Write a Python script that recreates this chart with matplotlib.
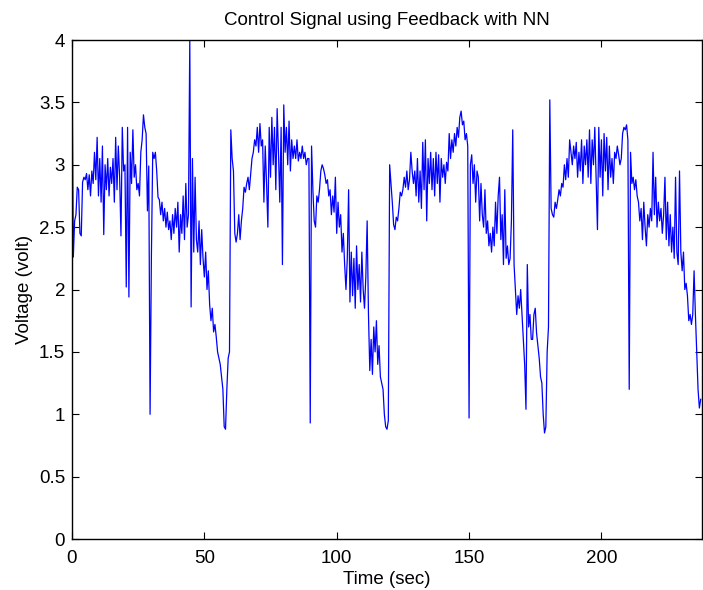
import numpy as np
import matplotlib
matplotlib.use("Agg")
import matplotlib.pyplot as plt

plt.rcParams['font.family'] = ['Liberation Sans', 'DejaVu Sans']

# sample spacing of the logged control signal (sec)
t_step = 0.5

# voltage, one 60 s cycle per list
volt_0_60 = [
    4.0, 2.26, 2.55, 2.6, 2.82, 2.8, 2.45, 2.43, 2.86, 2.9, 2.88, 2.93, 2.8, 2.92, 2.75, 2.95, 2.85, 3.1, 2.88, 3.22,
    2.75, 3.05, 2.7, 3.15, 2.44, 3.0, 2.8, 3.05, 2.75, 2.98, 2.85, 3.05, 2.7, 3.22, 2.8, 3.15, 2.9, 2.43, 3.3, 2.95,
    3.0, 2.02, 3.3, 1.94, 3.1, 2.85, 3.28, 2.9, 3.0, 2.8, 2.85, 2.75, 3.1, 3.2, 3.4, 3.3, 3.25, 2.63, 2.99, 1.0,
    2.27, 3.1, 3.05, 3.1, 2.95, 2.74, 2.72, 2.6, 2.7, 2.55, 2.65, 2.5, 2.62, 2.48, 2.55, 2.4, 2.6, 2.45, 2.65, 2.5,
    2.7, 2.3, 2.6, 2.45, 2.75, 2.4, 2.85, 2.5, 2.6, 4.0, 1.86, 3.05, 2.3, 2.9, 2.4, 2.3, 2.55, 2.2, 2.48, 2.25,
    2.1, 2.3, 2.0, 2.15, 1.88, 1.75, 1.85, 1.66, 1.72, 1.62, 1.5, 1.45, 1.4, 1.3, 1.2, 0.9, 0.88, 1.2, 1.45, 1.5,
]
volt_60_120 = [
    3.28, 3.05, 2.95, 2.45, 2.38, 2.45, 2.6, 2.4, 2.55, 2.65, 2.82, 2.78, 2.85, 2.9, 2.8, 2.93, 3.05, 3.1, 3.2, 3.15,
    3.3, 3.1, 3.33, 3.15, 3.2, 2.7, 3.15, 2.85, 2.5, 3.3, 2.9, 3.38, 3.0, 3.3, 2.8, 3.45, 3.1, 2.7, 3.3, 2.2,
    3.48, 3.1, 3.3, 3.0, 3.35, 2.95, 3.2, 3.05, 3.15, 3.05, 3.2, 3.03, 3.1, 3.05, 3.15, 3.05, 3.1, 3.0, 3.05, 3.05,
    0.93, 3.15, 2.8, 2.55, 2.5, 2.75, 2.7, 2.8, 2.95, 3.0, 2.97, 2.92, 2.85, 2.88, 2.75, 2.8, 2.6, 2.75, 2.62, 2.9,
    2.45, 2.7, 2.5, 2.6, 2.3, 2.45, 2.2, 2.0, 2.25, 2.8, 1.9, 2.3, 1.95, 2.25, 1.85, 2.35, 2.0, 2.2, 1.9, 2.3,
    2.0, 1.85, 2.1, 2.55, 1.8, 1.35, 1.6, 1.32, 1.7, 1.5, 1.75, 1.4, 1.55, 1.3, 1.25, 1.2, 1.0, 0.9, 0.88, 0.95,
]
volt_120_180 = [
    3.0, 2.85, 2.7, 2.52, 2.48, 2.58, 2.55, 2.65, 2.78, 2.75, 2.8, 2.9, 2.82, 2.95, 2.8, 2.88, 3.1, 2.95, 2.85, 2.95,
    2.75, 3.05, 2.7, 2.95, 2.65, 3.18, 2.8, 3.2, 2.55, 3.05, 2.85, 3.1, 2.8, 3.05, 2.75, 3.1, 2.85, 3.08, 2.7, 3.05,
    2.9, 3.0, 2.85, 3.02, 2.95, 3.25, 3.05, 3.2, 3.1, 3.25, 3.15, 3.3, 3.22, 3.38, 3.43, 3.32, 3.35, 3.2, 3.25, 3.15,
    0.97, 3.0, 3.08, 2.85, 3.0, 2.7, 2.95, 2.9, 2.55, 2.85, 2.6, 2.5, 2.8, 2.45, 2.55, 2.35, 2.45, 2.3, 2.5, 2.35,
    2.7, 2.45, 2.75, 2.9, 2.4, 2.6, 2.2, 2.8, 2.25, 2.35, 2.2, 2.25, 2.55, 3.28, 2.2, 2.0, 1.8, 1.95, 1.85, 2.0,
    1.8, 1.6, 1.4, 1.04, 2.2, 1.7, 1.8, 1.6, 1.6, 1.8, 1.85, 1.65, 1.55, 1.45, 1.3, 1.25, 1.0, 0.85, 0.9, 1.5,
]
volt_180_238 = [
    1.7, 3.52, 2.65, 2.6, 2.58, 2.7, 2.65, 2.72, 2.8, 2.75, 2.85, 2.82, 3.0, 2.88, 3.05, 2.9, 3.2, 3.1, 3.0, 3.15,
    3.05, 3.18, 2.9, 3.1, 2.95, 3.2, 2.85, 3.15, 3.0, 3.2, 2.9, 3.28, 2.85, 3.2, 3.0, 3.3, 2.9, 2.48, 3.3, 2.9,
    3.2, 2.75, 3.25, 2.95, 3.22, 2.8, 3.15, 2.9, 3.05, 2.85, 3.1, 3.05, 3.15, 3.08, 3.0, 3.05, 3.25, 3.3, 3.28, 3.32,
    3.2, 1.2, 3.1, 2.85, 2.9, 2.8, 2.88, 2.75, 2.7, 2.55, 2.65, 2.4, 2.7, 2.5, 2.35, 2.6, 2.5, 2.65, 2.55, 3.1,
    2.6, 2.9, 2.5, 2.7, 2.55, 2.65, 2.45, 2.6, 2.9, 2.4, 2.7, 2.35, 2.6, 2.3, 2.5, 2.25, 2.9, 2.3, 2.2, 2.95,
    2.3, 2.15, 2.3, 2.0, 2.05, 1.95, 1.75, 1.8, 1.72, 1.8, 2.15, 1.8, 1.5, 1.2, 1.05, 1.12,
]

voltage = np.array(volt_0_60 + volt_60_120 + volt_120_180 + volt_180_238)
time = np.arange(len(voltage)) * t_step

xticks = [0, 50, 100, 150, 200]
yticks = [0, 0.5, 1, 1.5, 2, 2.5, 3, 3.5, 4]
ytick_labels = ['0', '0.5', '1', '1.5', '2', '2.5', '3', '3.5', '4']

fig = plt.figure(figsize=(7.03, 5.90), dpi=100)
ax = fig.add_axes([0.1024, 0.0864, 0.8962, 0.8458])
ax.plot(time, voltage, color=(0, 0, 1), linewidth=0.9)

ax.set_xlim(0, 238)
ax.set_ylim(0, 4)
ax.set_xticks(xticks)
ax.set_yticks(yticks)
ax.set_yticklabels(ytick_labels)
ax.tick_params(direction='in', top=True, right=True, length=5, width=0.8,
               labelsize=13.5)
ax.tick_params(axis='x', pad=8)
ax.tick_params(axis='y', pad=5)
for s in ax.spines.values():
    s.set_linewidth(1.0)

ax.set_title('Control Signal using Feedback with NN', fontsize=13.5, pad=11)
ax.set_xlabel('Time (sec)', fontsize=13.5, labelpad=3)
ax.set_ylabel('Voltage (volt)', fontsize=13.5, labelpad=4)

fig.savefig('out.png', dpi=100)
